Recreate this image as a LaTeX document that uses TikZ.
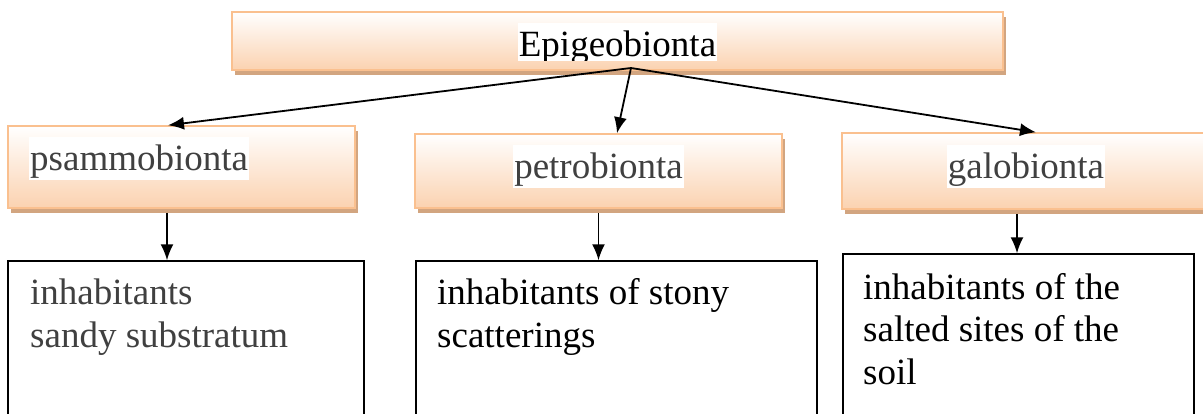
\documentclass[tikz,border=0pt]{standalone}
\usepackage{fontspec}
\setmainfont{Liberation Serif}
\usetikzlibrary{arrows.meta,shadows}

\definecolor{peachline}{RGB}{250,192,143}
\definecolor{peachfill}{RGB}{251,210,176}
\definecolor{peachshade}{RGB}{210,165,128}
\definecolor{txtgray}{RGB}{64,64,64}

\tikzset{
  groupbox/.style={draw=peachline, line width=1.5pt, top color=white, bottom color=peachfill,
    drop shadow={shadow xshift=3pt, shadow yshift=-5pt, fill=peachshade, opacity=1}, inner sep=0pt},
  habitbox/.style={draw=black, line width=1.4pt, fill=white, inner sep=0pt},
  grouplbl/.style={fill=white, inner xsep=1pt, inner ysep=0pt, text height=33pt, text depth=10pt,
    font=\fontsize{37}{42.5}\selectfont},
  habitlbl/.style={inner sep=0pt, align=left, font=\fontsize{37}{42.5}\selectfont},
  arr/.style={-{Latex[length=16pt,width=13pt]}, line width=1.8pt},
}

\begin{document}
\begin{tikzpicture}[x=1pt,y=-1pt]
\clip (0,0) rectangle (1203,413);

%% boxes
\node[groupbox, minimum width=771, minimum height=58] (epi) at (617.5,41) {};       %% top
\node[groupbox, minimum width=347, minimum height=82] (psammo) at (181.5,167) {};  %% left
\node[groupbox, minimum width=367, minimum height=74] (petro) at (598.5,171) {};   %% middle
\node[groupbox, minimum width=368, minimum height=76] (galo) at (1026,171) {};     %% right
\node[habitbox, minimum width=356, minimum height=199] (sandy) at (186,360.5) {};
\node[habitbox, minimum width=401, minimum height=199] (stony) at (616.5,360.5) {};
\node[habitbox, minimum width=351, minimum height=206] (salted) at (1018.5,357) {};

%% box labels
\begin{scope}
\clip (400,0) rectangle (840,60);
\node[grouplbl, anchor=base] (epitxt) at (617.5,56) {Epigeobionta};
\end{scope}
\node[grouplbl, anchor=base west, text=txtgray] (psammotxt) at (29,170) {psammobionta};
\node[grouplbl, anchor=base, text=txtgray] (petrotxt) at (598.5,178) {petrobionta};
\node[grouplbl, anchor=base, text=txtgray] (galotxt) at (1026,178) {galobionta};

%% base = last line
\node[habitlbl, anchor=base west, text=txtgray] (sandytxt) at (30,347) {inhabitants\\sandy substratum};
\node[habitlbl, anchor=base west] (stonytxt) at (437,347) {inhabitants of stony\\scatterings};
\node[habitlbl, anchor=base west] (saltedtxt) at (863,384) {inhabitants of the\\salted sites of the\\soil};

%% arrows
\coordinate (fork) at (631,68);
\draw[arr] (fork) -- ([xshift=-13.5pt]psammo.north);
\draw[arr] (fork) -- ([xshift=18.5pt]petro.north);
\draw[arr] (fork) -- ([xshift=10pt]galo.north);

\draw[arr, shorten <=4pt] ([xshift=-14.5pt]psammo.south) -- ([xshift=-14.5pt]psammo.south |- sandy.north);
\draw[arr, shorten <=4pt] (petro.south) -- (petro.south |- stony.north);
\draw[arr, shorten <=4pt] ([xshift=-9pt]galo.south) -- ([xshift=-9pt]galo.south |- salted.north);
\end{tikzpicture}
\end{document}
